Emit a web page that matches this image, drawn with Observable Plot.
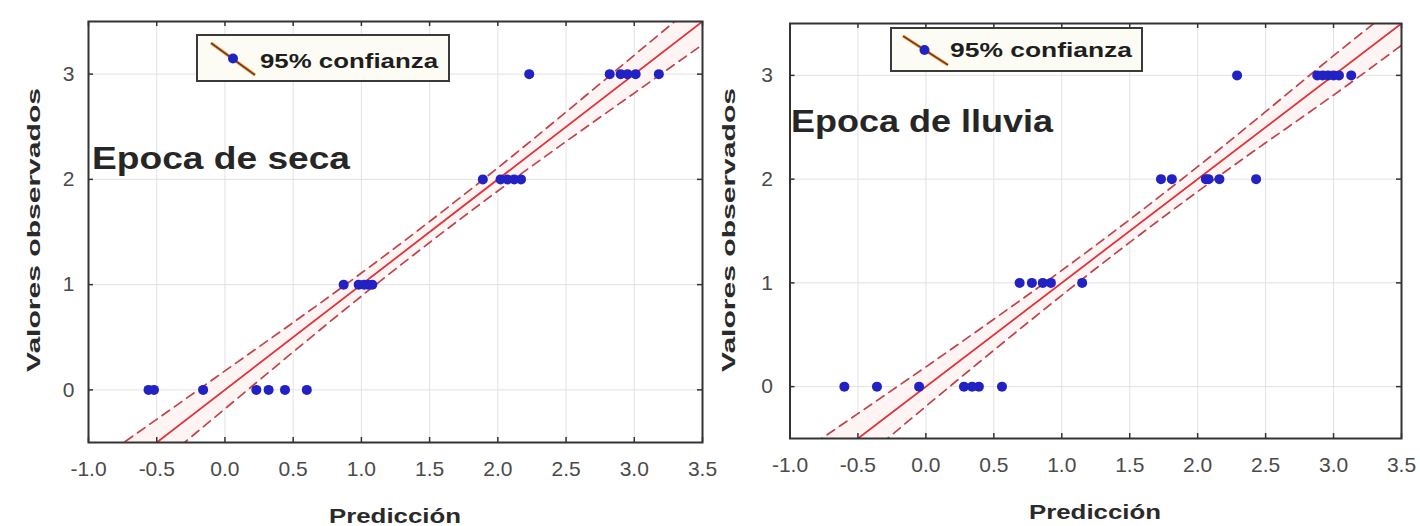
<!DOCTYPE html>
<html><head><meta charset="utf-8">
<script src="https://cdn.jsdelivr.net/npm/d3@7"></script>
<script src="https://cdn.jsdelivr.net/npm/@observablehq/plot@0.6"></script>
<style>
html,body{margin:0;padding:0;background:#fff;}
#wrap{position:relative;width:1420px;height:526px;overflow:hidden;background:#fff;font-family:"Liberation Sans",Arial,sans-serif;}
#wrap svg{position:absolute;top:0;}
</style></head><body><div id="wrap"></div>
<script>
// ---- data ----
const xTicks = [-1.0,-0.5,0.0,0.5,1.0,1.5,2.0,2.5,3.0,3.5];
const yTicks = [0,1,2,3];
const xAxisTitle = "Predicción";
const yAxisTitle = "Valores observados";
const legendLabel = "95% confianza";
const panelTitles = ["Epoca de seca", "Epoca de lluvia"];

// Epoca de seca: predicted values grouped by observed value
const secaObs0 = [-0.56,-0.52,-0.16,0.23,0.32,0.44,0.60];
const secaObs1 = [0.87,0.98,1.02,1.05,1.08];
const secaObs2 = [1.89,2.02,2.07,2.12,2.17];
const secaObs3 = [2.23,2.82,2.90,2.95,3.01,3.18];
// Epoca de lluvia
const lluviaObs0 = [-0.60,-0.36,-0.05,0.28,0.34,0.39,0.56];
const lluviaObs1 = [0.69,0.78,0.86,0.92,1.15];
const lluviaObs2 = [1.73,1.81,2.06,2.08,2.16,2.43];
const lluviaObs3 = [2.29,2.88,2.92,2.96,3.00,3.04,3.13];

// fitted line and 95% band
const fitX = [-1.0, 3.5];
const fitY = [-1.0, 3.5];
const bandX = [-1.0,-0.5,0.0,0.5,1.0,1.5,2.0,2.5,3.0,3.5];
const secaUpper = [-0.735,-0.28,0.18,0.64,1.11,1.60,2.11,2.64,3.18,3.72];
const secaLower = [-1.265,-0.72,-0.18,0.36,0.89,1.40,1.89,2.36,2.82,3.28];
const lluviaUpper = [-0.71,-0.26,0.19,0.65,1.12,1.61,2.12,2.65,3.19,3.71];
const lluviaLower = [-1.29,-0.74,-0.19,0.35,0.88,1.39,1.88,2.35,2.81,3.29];

// ---- build ----
function points(groups){ return groups.flatMap((g,obs)=>g.map(p=>({pred:p, obs}))); }
function band(up, lo){ return bandX.map((x,i)=>({x, hi:up[i], lo:lo[i]})); }
const fit = fitX.map((x,i)=>({x, y:fitY[i]}));

function panel(pts, bnd, o){
  const innerW = o.width - o.ml - o.mr;
  const innerH = 526 - o.mt - o.mb;
  const svg = Plot.plot({
    width: o.width, height: 526,
    marginLeft: o.ml, marginRight: o.mr, marginTop: o.mt, marginBottom: o.mb,
    style: {background: "transparent", fontFamily: "Liberation Sans, Arial, sans-serif", fontSize: "21px", color: "#4a4a4a", overflow: "visible"},
    x: {domain: [-1, 3.5]},
    y: {domain: [-0.5, 3.5]},
    marks: [
      Plot.gridX(xTicks, {stroke: "#e2e2e2", strokeOpacity: 1, strokeWidth: 1}),
      Plot.gridY(yTicks, {stroke: "#e2e2e2", strokeOpacity: 1, strokeWidth: 1}),
      Plot.areaY(bnd, {x: "x", y1: "lo", y2: "hi", fill: "#fef4f4", curve: "natural", clip: true}),
      Plot.line(bnd, {x: "x", y: "hi", stroke: "#c0434b", strokeWidth: 1.7, strokeDasharray: "9,6", curve: "natural", clip: true}),
      Plot.line(bnd, {x: "x", y: "lo", stroke: "#c0434b", strokeWidth: 1.7, strokeDasharray: "9,6", curve: "natural", clip: true}),
      Plot.line(fit, {x: "x", y: "y", stroke: "#e0333a", strokeWidth: 1.8, clip: true}),
      Plot.dot(pts, {x: "pred", y: "obs", r: 5, fill: "#2222c4"}),
      Plot.tickX(xTicks, {x: d=>d, insetTop: innerH - 5, stroke: "#333", strokeWidth: 1.5}),
      Plot.tickX(xTicks, {x: d=>d, insetBottom: innerH - 5, stroke: "#333", strokeWidth: 1.5}),
      Plot.tickY(yTicks, {y: d=>d, insetRight: innerW - 5, stroke: "#333", strokeWidth: 1.5}),
      Plot.tickY(yTicks, {y: d=>d, insetLeft: innerW - 5, stroke: "#333", strokeWidth: 1.5}),
      Plot.axisX({ticks: xTicks, tickSize: 0, tickPadding: 19, tickFormat: d=>d.toFixed(1), label: null}),
      Plot.axisY({ticks: yTicks, tickSize: 0, tickPadding: o.ypad, tickFormat: d=>String(d), label: null}),
      Plot.frame({stroke: "#333", strokeWidth: 2})
    ]
  });
  svg.style.left = o.left + "px";
  return svg;
}

const wrap = document.getElementById("wrap");
wrap.appendChild(panel(points([secaObs0,secaObs1,secaObs2,secaObs3]), band(secaUpper, secaLower),
  {left: 0, width: 730, ml: 88, mr: 28, mt: 21, mb: 84, ypad: 14}));
wrap.appendChild(panel(points([lluviaObs0,lluviaObs1,lluviaObs2,lluviaObs3]), band(lluviaUpper, lluviaLower),
  {left: 712, width: 708, ml: 77.5, mr: 19, mt: 23, mb: 88, ypad: 17}));

// ---- overlay texts & legends ----
const ov = d3.select(wrap).append("svg").attr("width", 1420).attr("height", 526)
  .style("left", "0px").style("pointer-events", "none")
  .attr("font-family", "Liberation Sans, Arial, sans-serif");

function stretchText(x, y, txt, size, len, opt={}){
  const t = ov.append("text").attr("x", x).attr("y", y).text(txt)
    .attr("font-size", size).attr("fill", opt.fill || "#222")
    .attr("font-weight", opt.weight || "bold")
    .attr("text-anchor", opt.anchor || "start")
    .attr("textLength", len).attr("lengthAdjust", "spacingAndGlyphs");
  if (opt.rotate) t.attr("transform", `rotate(-90 ${x} ${y})`);
  return t;
}
// axis titles
stretchText(40, 230, yAxisTitle, 19, 284, {anchor: "middle", rotate: true, fill: "#2a2a2a"});
stretchText(735, 230, yAxisTitle, 19, 284, {anchor: "middle", rotate: true, fill: "#2a2a2a"});
stretchText(395, 523, xAxisTitle, 21, 132, {anchor: "middle", fill: "#2a2a2a"});
stretchText(1095, 519, xAxisTitle, 21, 132, {anchor: "middle", fill: "#2a2a2a"});
// panel titles
stretchText(92, 169, panelTitles[0], 32, 258, {fill: "#262626"});
stretchText(791, 132, panelTitles[1], 32, 262, {fill: "#262626"});
// legends
function legend(bx, by, bw, bh, l1, l2, dot, tx, ty, tl){
  ov.append("rect").attr("x", bx).attr("y", by).attr("width", bw).attr("height", bh)
    .attr("fill", "#fcfcf5").attr("stroke", "#3a3a3a").attr("stroke-width", 2);
  ov.append("line").attr("x1", l1[0]).attr("y1", l1[1]).attr("x2", l2[0]).attr("y2", l2[1])
    .attr("stroke", "#e89040").attr("stroke-width", 3.2);
  ov.append("line").attr("x1", l1[0]).attr("y1", l1[1]).attr("x2", l2[0]).attr("y2", l2[1])
    .attr("stroke", "#5a2a18").attr("stroke-width", 1.2);
  ov.append("circle").attr("cx", dot[0]).attr("cy", dot[1]).attr("r", 5).attr("fill", "#2222c4");
  stretchText(tx, ty, legendLabel, 21, tl, {fill: "#1e1e1e", weight: "bold"});
}
legend(197, 35, 252, 46, [211,43], [255,75], [233,58.5], 260, 68, 178);
legend(891, 28, 251, 43, [903,36], [948,65], [924.5,50], 950, 57, 182);
</script>
</body></html>
